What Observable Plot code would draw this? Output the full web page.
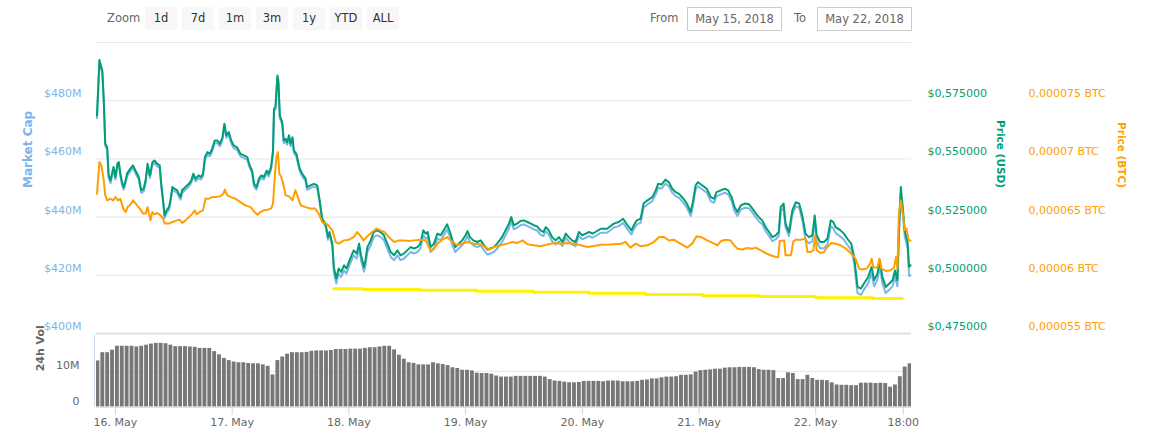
<!DOCTYPE html>
<html><head><meta charset="utf-8">
<script src="https://cdn.jsdelivr.net/npm/d3@7"></script>
<script src="https://cdn.jsdelivr.net/npm/@observablehq/plot@0.6"></script>
<style>
html,body{margin:0;padding:0;background:#fff;}
#chart{position:relative;width:1158px;height:444px;overflow:hidden;font-family:"DejaVu Sans",sans-serif;}
#chart svg{position:absolute;left:0;}
.lbl{position:absolute;top:7px;height:23px;line-height:23px;font-size:11.5px;color:#666;}
.btn{position:absolute;top:7px;width:32px;height:23px;background:#f7f7f7;border-radius:2px;text-align:center;line-height:23px;font-size:11.5px;color:#333;}
.inp{position:absolute;top:7px;width:93px;height:22px;border:1px solid #ccc;text-align:center;line-height:22px;font-size:11.5px;color:#666;}
#vol g[aria-label^="x-axis"] line, #vol g[aria-label^="x-axis"] path{stroke:#ccd6eb;}
#vol g[aria-label^="x-axis"] text{fill:#666;}
</style></head>
<body>
<div id="chart"></div>
<script>
// ---------- controls ----------
const zoomButtons = ["1d","7d","1m","3m","1y","YTD","ALL"];
const fromLabel = "May 15, 2018";
const toLabel = "May 22, 2018";

// ---------- axis ticks / labels ----------
const mcapTicks = [400, 420, 440, 460, 480];
const mcapLabels = ["$400M","$420M","$440M","$460M","$480M"];
const gridTicks = [420, 440, 460, 480, 500];
const usdTicks = [0.475, 0.5, 0.525, 0.55, 0.575];
const usdLabels = ["$0,475000","$0,500000","$0,525000","$0,550000","$0,575000"];
const btcTicks = [5500, 6000, 6500, 7000, 7500]; // satoshi
const btcLabels = ["0,000055 BTC","0,00006 BTC","0,000065 BTC","0,00007 BTC","0,000075 BTC"];
const volTicks = [0, 10];
const volLabels = ["0","10M"];
const xTickHours = [0, 24, 48, 72, 96, 120, 144, 162]; // hours since 16 May 00:00
const xTickLabels = ["16. May","17. May","18. May","19. May","20. May","21. May","22. May","18:00"];

// ---------- series (hours since 16 May 2018 00:00) ----------
const priceHours = [
-3.8,-3.3,-2.7,-2.4,-2.1,-1.7,-1.4,-1.0,-0.7,-0.4,
0.0,0.4,0.7,1.0,1.4,1.7,2.1,2.4,3.1,3.6,
4.1,4.8,5.3,5.8,6.2,6.6,7.1,7.6,8.0,8.6,
9.1,9.4,9.8,10.1,10.5,11.0,11.3,11.7,12.1,12.7,
13.0,13.4,13.7,14.4,15.1,15.6,16.0,16.5,17.1,17.6,
18.0,18.4,18.9,19.4,19.9,20.4,20.9,21.5,22.0,22.4,
22.8,23.3,23.8,24.3,25.0,25.7,26.4,27.1,27.6,28.1,
28.5,29.0,29.5,30.0,30.5,31.1,31.5,32.0,32.4,32.6,
32.9,33.3,33.5,33.8,34.3,34.6,35.0,35.3,35.7,36.0,
36.4,36.7,37.2,37.5,37.9,38.4,39.1,39.4,40.1,40.8,
41.5,42.0,42.5,43.2,43.7,44.0,44.6,44.9,45.4,45.9,
46.4,47.0,47.5,48.0,48.7,49.0,49.6,50.1,50.5,51.1,
51.4,51.8,52.5,53.1,53.8,54.5,55.2,55.9,56.6,57.3,
58.0,58.6,59.3,60.0,60.7,61.4,62.1,62.7,63.3,63.8,
64.2,64.8,65.5,66.2,66.9,67.5,68.2,68.8,69.3,69.9,
70.6,71.3,72.0,72.4,72.9,73.6,74.4,75.1,75.8,76.5,
77.1,77.8,78.5,79.5,80.2,80.9,81.4,81.9,82.6,83.3,
84.0,84.7,85.4,86.0,86.7,87.4,88.0,88.5,89.1,89.8,
90.5,91.2,91.9,92.6,93.2,93.9,94.6,95.3,96.0,96.7,
97.4,98.1,98.7,99.8,101.1,102.5,103.5,104.4,105.3,106.1,
106.6,107.2,108.0,108.6,109.4,110.4,111.1,111.6,112.3,113.1,
113.8,114.5,115.2,115.9,116.8,117.5,118.3,118.8,119.3,119.8,
120.7,121.6,122.4,123.1,123.6,124.5,125.3,126.0,126.7,127.3,
127.9,128.6,129.4,130.3,131.0,131.7,132.3,133.0,133.7,134.4,
135.1,135.8,136.4,136.8,137.4,137.8,138.5,139.2,139.9,140.6,
141.3,141.9,142.6,143.3,143.8,144.2,144.9,145.7,146.4,147.1,
147.6,148.1,149.1,149.8,150.5,151.3,151.9,152.6,153.3,153.9,
154.8,155.5,156.0,156.7,157.2,157.7,158.4,159.1,159.8,160.3,
160.8,161.1,161.5,161.9,162.3,162.9,163.2,163.5];
const priceUsd = [
0.5686,0.5925,0.5879,0.5751,0.5566,0.5550,0.5429,0.5408,0.5438,0.5465,
0.5422,0.5480,0.5486,0.5438,0.5395,0.5379,0.5408,0.5438,0.5459,0.5472,
0.5450,0.5422,0.5365,0.5372,0.5408,0.5479,0.5429,0.5486,0.5493,0.5479,
0.5472,0.5395,0.5322,0.5257,0.5279,0.5293,0.5322,0.5379,0.5372,0.5365,
0.5350,0.5336,0.5365,0.5379,0.5393,0.5408,0.5436,0.5415,0.5429,0.5422,
0.5436,0.5508,0.5529,0.5522,0.5544,0.5579,0.5579,0.5565,0.5593,0.5651,
0.5601,0.5615,0.5579,0.5558,0.5550,0.5522,0.5515,0.5508,0.5472,0.5450,
0.5393,0.5379,0.5415,0.5429,0.5422,0.5450,0.5436,0.5465,0.5536,0.5715,
0.5722,0.5858,0.5837,0.5686,0.5658,0.5579,0.5586,0.5572,0.5601,0.5565,
0.5593,0.5536,0.5522,0.5493,0.5458,0.5436,0.5415,0.5379,0.5386,0.5393,
0.5386,0.5322,0.5243,0.5222,0.5164,0.5186,0.5136,0.5036,0.4986,0.5029,
0.5014,0.5043,0.5029,0.5057,0.5093,0.5107,0.5093,0.5136,0.5086,0.5036,
0.5064,0.5121,0.5150,0.5186,0.5193,0.5186,0.5172,0.5136,0.5100,0.5086,
0.5107,0.5086,0.5093,0.5107,0.5121,0.5115,0.5121,0.5136,0.5193,0.5179,
0.5186,0.5121,0.5136,0.5179,0.5172,0.5193,0.5219,0.5186,0.5150,0.5121,
0.5136,0.5150,0.5172,0.5190,0.5164,0.5150,0.5143,0.5150,0.5129,0.5110,
0.5115,0.5121,0.5136,0.5164,0.5193,0.5222,0.5250,0.5215,0.5222,0.5233,
0.5236,0.5229,0.5222,0.5215,0.5210,0.5193,0.5186,0.5207,0.5193,0.5164,
0.5150,0.5164,0.5143,0.5179,0.5164,0.5150,0.5143,0.5186,0.5172,0.5179,
0.5186,0.5179,0.5186,0.5200,0.5200,0.5222,0.5229,0.5243,0.5215,0.5193,
0.5215,0.5236,0.5243,0.5308,0.5322,0.5336,0.5365,0.5393,0.5390,0.5411,
0.5400,0.5372,0.5357,0.5350,0.5329,0.5308,0.5272,0.5322,0.5386,0.5400,
0.5386,0.5372,0.5336,0.5329,0.5357,0.5365,0.5372,0.5365,0.5336,0.5293,
0.5272,0.5300,0.5308,0.5305,0.5286,0.5265,0.5250,0.5236,0.5207,0.5186,
0.5164,0.5172,0.5186,0.5293,0.5308,0.5222,0.5186,0.5279,0.5314,0.5308,
0.5250,0.5179,0.5164,0.5172,0.5257,0.5172,0.5143,0.5143,0.5157,0.5236,
0.5229,0.5207,0.5193,0.5179,0.5157,0.5136,0.5079,0.4950,0.4943,0.4964,
0.4993,0.5036,0.4979,0.5007,0.5064,0.4993,0.4950,0.4964,0.4979,0.5021,
0.4979,0.5193,0.5379,0.5293,0.5193,0.5143,0.5036,0.5043];
const marketCapM = [
474.0,493.1,489.4,479.2,464.4,463.1,453.4,451.7,454.1,456.3,
452.9,457.5,458.0,454.1,450.7,449.4,451.7,454.1,455.8,456.9,
455.1,452.9,448.3,448.9,451.7,457.4,453.4,458.0,458.5,457.4,
456.9,450.7,444.9,439.7,441.4,442.5,444.9,449.4,448.9,448.3,
447.1,446.0,448.3,449.4,450.5,451.7,454.0,452.3,453.4,452.9,
454.0,459.7,461.4,460.9,462.6,465.4,465.4,464.3,466.5,471.2,
467.2,468.3,465.4,463.7,463.1,460.9,460.3,459.7,456.9,455.1,
450.5,449.4,452.3,453.4,452.9,455.1,454.0,456.3,462.0,476.3,
476.9,487.7,486.1,474.0,471.7,465.4,466.0,464.9,467.2,464.3,
466.5,462.0,460.9,458.5,455.7,454.0,452.3,449.4,450.0,450.5,
450.0,444.9,438.5,436.9,432.2,434.0,430.0,421.2,417.2,420.6,
419.4,421.7,420.6,422.9,425.7,426.9,425.7,429.2,425.2,421.2,
423.4,428.0,430.3,433.2,433.7,433.2,432.1,429.2,426.3,425.2,
426.9,425.2,425.7,426.9,428.0,427.5,428.0,429.2,433.7,432.6,
433.2,428.0,429.2,432.6,432.1,433.7,435.8,433.2,430.3,428.0,
429.2,430.3,432.1,433.5,431.4,430.3,429.7,430.3,428.6,427.1,
427.5,428.0,429.2,431.4,433.7,436.1,438.6,435.8,436.4,437.2,
437.5,436.9,436.4,435.8,435.4,434.0,433.5,435.2,434.0,431.7,
430.6,431.7,430.0,432.9,431.7,430.6,430.0,433.5,432.4,432.9,
433.5,432.9,433.5,434.6,434.6,436.4,436.9,438.0,435.8,434.0,
435.8,437.5,438.0,443.2,444.4,445.5,447.8,450.0,449.8,451.5,
450.6,448.4,447.2,446.6,444.9,443.2,440.4,444.4,449.5,450.6,
449.5,448.4,445.5,444.9,447.2,447.8,448.4,447.8,445.5,442.0,
440.4,442.6,443.2,443.0,441.5,439.8,438.6,437.5,435.2,433.5,
431.7,432.4,433.5,442.0,443.2,436.4,433.5,440.9,443.7,443.2,
438.6,432.2,431.0,431.7,438.5,431.7,429.3,429.3,430.5,436.8,
436.2,434.5,433.3,432.2,430.5,428.8,424.2,413.9,413.3,415.0,
417.3,420.8,416.2,418.5,423.0,417.3,413.9,415.0,416.2,419.6,
416.2,433.3,448.2,441.3,433.3,429.3,419.8,420.0];

const btcHours = [
-3.8,-3.3,-2.9,-2.4,-2.1,-1.7,-1.0,-0.5,0.0,0.5,
1.0,1.6,2.1,2.5,3.1,3.6,4.3,5.0,5.7,6.2,
6.6,7.2,7.6,8.0,8.6,9.3,9.8,10.1,11.0,11.7,
12.6,13.2,13.7,14.4,15.1,15.8,16.3,16.7,17.3,18.0,
18.5,19.2,19.9,20.6,21.5,22.2,22.5,23.0,23.7,24.7,
25.7,26.7,27.8,28.6,29.2,29.8,30.5,31.3,32.0,32.4,
32.8,33.1,33.4,33.7,34.1,34.5,35.0,35.7,36.4,37.0,
37.5,38.1,39.1,40.1,41.1,41.8,42.5,43.6,44.6,45.3,
45.9,47.0,48.0,49.0,49.7,50.3,51.0,51.8,52.8,53.7,
54.5,55.3,56.2,57.3,58.3,59.3,60.3,61.4,62.7,63.8,
64.8,65.5,66.2,67.2,68.2,69.3,70.3,71.3,72.4,73.7,
75.1,76.1,76.8,77.8,79.2,80.6,81.6,82.6,83.7,84.7,
86.0,87.4,88.8,90.2,91.5,92.9,94.3,95.7,97.0,98.4,
99.8,101.8,103.9,104.9,105.9,107.0,108.0,109.4,110.7,111.8,
112.8,113.8,114.8,116.2,117.6,118.6,119.5,120.7,121.7,123.1,
123.8,124.5,125.5,126.5,127.2,127.9,128.9,129.9,131.0,131.7,
132.7,133.7,134.7,135.8,136.3,136.6,137.5,137.8,138.5,138.9,
139.4,139.9,140.9,141.9,142.3,143.0,143.5,143.9,144.2,145.0,
145.7,146.4,147.2,148.1,149.1,150.2,151.2,152.2,152.9,153.6,
154.5,155.2,155.5,155.9,156.7,157.1,157.5,158.4,159.4,160.1,
160.5,160.8,161.1,161.5,162.0,162.3,162.7,163.1,163.5];
const btcSatoshi = [
6701,6973,6944,6815,6687,6644,6658,6644,6672,6644,
6658,6573,6543,6586,6609,6644,6609,6573,6530,6530,
6586,6472,6543,6524,6535,6515,6487,6444,6444,6458,
6472,6478,6449,6472,6500,6530,6558,6524,6543,6558,
6658,6658,6672,6672,6678,6701,6736,6687,6672,6658,
6629,6601,6586,6543,6521,6543,6558,6564,6573,6615,
6873,7016,7058,6873,6844,6787,6687,6678,6644,6730,
6672,6601,6586,6573,6573,6530,6458,6438,6386,6286,
6272,6300,6306,6329,6372,6343,6300,6335,6372,6401,
6386,6372,6329,6286,6300,6300,6294,6300,6306,6300,
6215,6229,6272,6306,6329,6286,6258,6272,6286,6272,
6266,6243,6221,6243,6258,6272,6286,6277,6300,6266,
6258,6249,6264,6277,6272,6277,6272,6258,6243,6252,
6262,6264,6270,6286,6238,6272,6249,6258,6286,6329,
6329,6300,6306,6272,6238,6272,6335,6324,6300,6272,
6258,6294,6306,6300,6258,6229,6221,6234,6229,6238,
6215,6191,6172,6157,6157,6294,6300,6172,6172,6172,
6292,6306,6306,6315,6200,6200,6215,6343,6215,6191,
6200,6243,6277,6272,6258,6229,6191,6143,6058,6049,
6058,6100,6143,6066,6066,6143,6058,6037,6043,6066,
6157,6058,6530,6644,6500,6386,6401,6300,6300];

const yellowHours = [44.9, 51.0, 62.6, 74.3, 86.0, 97.4, 109.0, 120.7, 132.5, 144.0, 155.7, 161.8];
const yellowValues = [415.4, 415.1, 414.85, 414.5, 414.2, 413.8, 413.4, 413.0, 412.7, 412.3, 412.0, 412.0];

const volStartHour = -4; // hourly bars from 15 May 20:00
const volumeM = [
12.9,15.2,15.2,15.9,17.0,17.0,17.0,17.0,16.8,17.0,
17.3,17.6,17.8,17.8,17.7,17.3,16.9,16.9,16.9,16.8,
16.7,16.4,16.4,16.4,15.5,14.6,13.6,13.0,12.6,12.4,
12.4,12.2,12.1,12.1,11.8,11.4,9.0,13.0,14.0,14.8,
15.2,15.2,15.2,15.3,15.6,15.7,15.7,15.7,15.8,16.1,
16.1,16.1,16.2,16.2,16.2,16.4,16.6,16.6,16.8,17.0,
17.0,16.0,14.5,13.4,12.4,12.2,11.8,11.8,11.8,12.4,
12.1,11.9,11.6,11.0,10.8,10.3,10.3,10.1,9.5,9.4,
9.4,9.2,8.7,8.4,8.4,8.4,8.6,8.6,8.6,8.6,
8.6,8.6,8.4,7.7,7.3,7.2,7.0,6.8,6.8,6.9,
7.2,7.2,7.2,7.2,7.1,7.3,7.3,7.3,7.1,7.1,
7.1,7.2,7.5,7.6,7.9,7.9,8.2,8.4,8.4,8.5,
8.9,8.9,9.0,9.8,10.2,10.3,10.4,10.6,10.6,10.9,
11.0,11.0,11.1,11.1,11.1,11.0,10.5,10.3,10.3,10.2,
8.0,8.0,9.6,9.4,7.7,7.7,8.9,8.0,7.5,7.5,
7.4,6.8,6.2,6.1,6.1,6.0,6.0,6.7,6.7,6.7,
6.6,6.7,6.6,5.6,6.2,8.5,11.2,12.1];

// ---------- colours ----------
const cMcap = "#7cb5ec", cUsd = "#009e73", cBtc = "#ff9f00", cYellow = "#fff200", cVol = "#777777";

// ---------- build ----------
const T0 = Date.UTC(2018, 4, 16);
const at = h => new Date(T0 + h * 3600000);
const xDomain = [at(-3.9), at(163.7)];

const mcapData = priceHours.map((h, i) => ({date: at(h), v: marketCapM[i]}));
const usdData = priceHours.map((h, i) => ({date: at(h), v: priceUsd[i]}));
const btcData = btcHours.map((h, i) => ({date: at(h), v: btcSatoshi[i]}));
const yellowData = yellowHours.map((h, i) => ({date: at(h), v: yellowValues[i]}));
const volData = volumeM.map((v, i) => ({start: at(volStartHour + i), end: at(volStartHour + i + 1), v}));
const xTicks = xTickHours.map(at);
const tickLabelOf = new Map(xTicks.map((d, i) => [d.getTime(), xTickLabels[i]]));

const chart = document.getElementById("chart");

// controls
function addDiv(cls, left, text, extra) {
  const d = document.createElement("div");
  d.className = cls; d.style.left = left + "px"; d.textContent = text;
  if (extra) Object.assign(d.style, extra);
  chart.appendChild(d);
}
addDiv("lbl", 107, "Zoom");
zoomButtons.forEach((b, i) => addDiv("btn", 145 + 37 * i, b));
addDiv("lbl", 650, "From");
addDiv("inp", 687, fromLabel);
addDiv("lbl", 794, "To");
addDiv("inp", 817, toLabel);

const common = {
  width: 1158, height: 336, marginLeft: 96, marginRight: 247, marginTop: 42, marginBottom: 3,
  style: {background: "transparent", fontFamily: "DejaVu Sans, sans-serif", fontSize: "11px", overflow: "visible"},
  x: {type: "utc", domain: xDomain, axis: null}
};

const mainPlot = Plot.plot({
  ...common,
  y: {domain: [400, 500], axis: null},
  marks: [
    Plot.ruleY(gridTicks, {stroke: "#e6e6e6", strokeOpacity: 1}),
    Plot.ruleY([400], {stroke: "#e0e0e0", strokeWidth: 2, strokeOpacity: 1}),
    Plot.text(mcapTicks, {y: d => d, frameAnchor: "left", dx: -15, dy: -7, textAnchor: "end", text: (d, i) => mcapLabels[i], fill: cMcap}),
    Plot.text(["Market Cap"], {text: d => d, frameAnchor: "left", dx: -68, rotate: -90, fill: cMcap, fontWeight: "bold", fontSize: 12}),
    Plot.line(mcapData, {x: "date", y: "v", stroke: cMcap, strokeWidth: 2}),
    Plot.line(yellowData, {x: "date", y: "v", curve: "step-after", stroke: cYellow, strokeWidth: 3})
  ]
});
mainPlot.style.top = "0px";
chart.appendChild(mainPlot);

const usdPlot = Plot.plot({
  ...common,
  y: {domain: [0.475, 0.6], axis: null},
  marks: [
    Plot.text(usdTicks, {y: d => d, frameAnchor: "right", dx: 16, dy: -7, textAnchor: "start", text: (d, i) => usdLabels[i], fill: cUsd}),
    Plot.text(["Price (USD)"], {text: d => d, frameAnchor: "right", dx: 89, rotate: 90, fill: cUsd, fontWeight: "bold", fontSize: 10.5}),
    Plot.line(usdData, {x: "date", y: "v", stroke: cUsd, strokeWidth: 2})
  ]
});
usdPlot.style.top = "0px";
chart.appendChild(usdPlot);

const btcPlot = Plot.plot({
  ...common,
  y: {domain: [5500, 8000], axis: null},
  marks: [
    Plot.text(btcTicks, {y: d => d, frameAnchor: "right", dx: 117, dy: -7, textAnchor: "start", text: (d, i) => btcLabels[i], fill: cBtc}),
    Plot.text(["Price (BTC)"], {text: d => d, frameAnchor: "right", dx: 210, rotate: 90, fill: cBtc, fontWeight: "bold", fontSize: 10.5}),
    Plot.line(btcData, {x: "date", y: "v", stroke: cBtc, strokeWidth: 2})
  ]
});
btcPlot.style.top = "0px";
chart.appendChild(btcPlot);

const volPlot = Plot.plot({
  width: 1158, height: 109, marginLeft: 96, marginRight: 247, marginTop: 0, marginBottom: 37.3,
  style: {background: "transparent", fontFamily: "DejaVu Sans, sans-serif", fontSize: "11px", overflow: "visible"},
  x: {type: "utc", domain: xDomain, ticks: xTicks, tickFormat: d => tickLabelOf.get(d.getTime()) || "", tickSize: 8, tickPadding: 3, label: null},
  y: {domain: [0, 20], axis: null},
  marks: [
    Plot.ruleY([10], {stroke: "#e6e6e6", strokeOpacity: 1}),
    Plot.rectY(volData, {x1: "start", x2: "end", y: "v", fill: cVol, insetRight: 1, clip: true}),
    Plot.ruleY([0], {stroke: "#ccd6eb", strokeOpacity: 1}),
    Plot.ruleX([xDomain[0]], {stroke: "#ccd6eb", strokeOpacity: 1, dx: -2}),
    Plot.text(volTicks, {y: d => d, frameAnchor: "left", dx: -17, dy: -6, textAnchor: "end", text: (d, i) => volLabels[i], fill: "#666"}),
    Plot.text(["24h Vol"], {text: d => d, frameAnchor: "left", dx: -56, rotate: -90, fill: "#666", fontWeight: "bold", fontSize: 11})
  ]
});
volPlot.id = "vol";
volPlot.style.top = "335px";
chart.appendChild(volPlot);
</script>
</body></html>
